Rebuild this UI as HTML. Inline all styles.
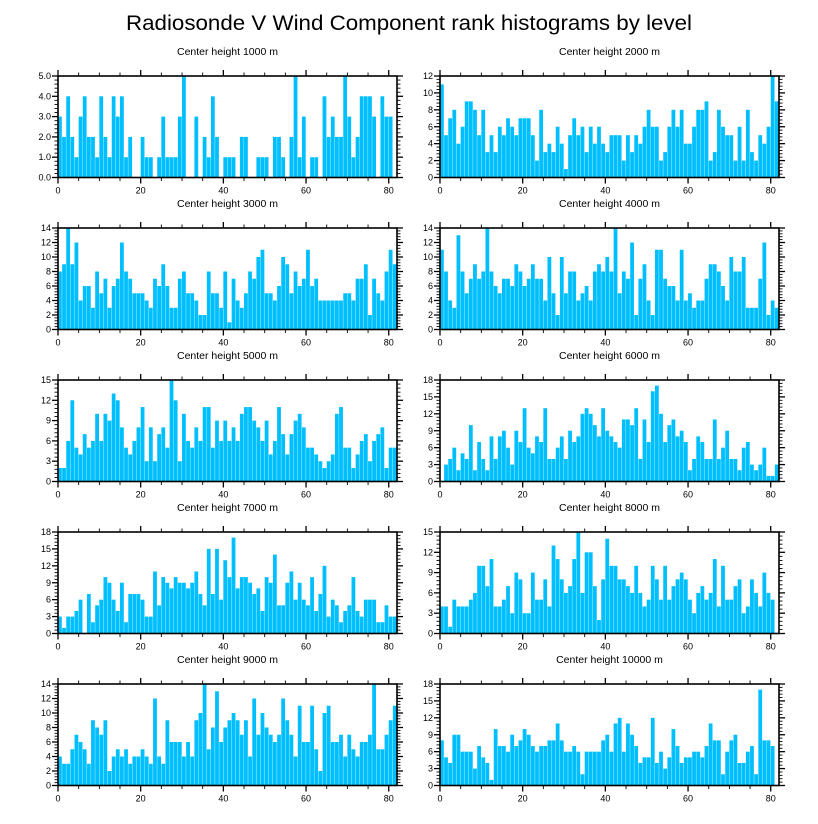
<!DOCTYPE html>
<html><head><meta charset="utf-8"><style>
html,body{margin:0;padding:0;background:#fff;}
svg{display:block;font-family:"Liberation Sans",Arial,sans-serif;}
</style></head><body>
<svg id="chart" width="818" height="824" viewBox="0 0 818 824" xmlns="http://www.w3.org/2000/svg">
<text x="409" y="30" text-anchor="middle" font-size="21" textLength="566" lengthAdjust="spacingAndGlyphs">Radiosonde V Wind Component rank histograms by level</text>
</svg>
<script>
const panelTitles = ["Center height 1000 m","Center height 2000 m","Center height 3000 m","Center height 4000 m","Center height 5000 m","Center height 6000 m","Center height 7000 m","Center height 8000 m","Center height 9000 m","Center height 10000 m"];
const xTickLabels = [0,20,40,60,80];
const yMaxes = [5,12,14,14,15,18,18,15,14,18];
const yLabelSteps = [1,2,2,2,3,3,3,3,2,3];
const h1000 = [3,2,4,2,1,3,4,2,2,1,4,2,1,4,3,4,1,2,0,0,2,1,1,0,1,3,1,1,1,3,5,0,0,3,0,2,1,4,2,0,1,1,1,0,2,2,0,0,1,1,1,0,2,2,1,0,2,5,1,3,0,1,1,0,4,2,3,2,2,5,3,1,2,4,4,4,3,0,4,3,3,0];
const h2000 = [11,5,7,8,4,6,9,9,8,5,8,3,5,3,6,5,7,6,5,7,7,7,5,2,8,3,4,3,6,4,1,5,7,5,6,3,6,4,6,4,3,5,5,5,2,5,3,5,4,6,8,6,6,2,3,6,8,6,8,4,4,6,8,8,9,2,3,8,6,5,5,2,6,2,8,3,2,5,4,6,12,9];
const h3000 = [8,9,14,9,12,4,6,6,3,8,5,7,3,6,7,12,8,7,5,5,5,4,3,7,6,9,6,3,3,7,8,5,5,4,2,2,8,5,5,3,8,1,7,4,3,5,8,7,10,11,5,5,4,6,10,9,5,8,6,7,11,6,7,4,4,4,4,4,4,5,5,4,7,7,9,2,7,5,4,8,11,9];
const h4000 = [11,8,4,3,13,8,5,7,9,7,8,14,8,6,5,7,7,6,9,8,6,7,9,7,7,4,10,5,2,10,5,8,8,4,5,6,4,8,9,8,10,8,14,5,8,7,12,2,7,9,4,2,11,11,7,6,6,4,11,4,5,3,4,4,7,9,9,8,6,4,10,8,8,10,3,3,3,7,12,2,4,3];
const h5000 = [2,2,6,12,5,4,7,5,6,10,6,10,9,13,12,8,5,4,6,8,11,3,8,3,7,8,5,15,12,3,10,6,5,8,6,11,11,5,9,6,9,6,8,6,10,11,11,9,8,6,9,4,6,11,7,4,7,9,10,8,5,5,4,3,2,3,4,10,11,5,5,2,4,6,7,3,6,7,8,2,5,5];
const h6000 = [0,3,4,6,2,5,4,10,2,7,4,2,8,4,8,9,6,3,9,7,13,6,5,8,7,13,4,4,6,8,4,9,7,8,12,13,12,10,8,13,9,8,7,6,11,11,10,13,4,11,7,16,17,12,7,10,11,8,9,7,2,4,8,7,4,4,11,4,6,9,4,4,2,6,7,3,2,3,6,1,1,3];
const h7000 = [3,1,3,3,4,6,0,7,2,5,6,10,9,6,4,9,2,7,7,7,6,3,3,11,5,10,9,8,10,9,9,8,9,11,7,5,15,7,15,6,13,10,17,8,10,10,9,7,8,4,10,9,14,5,5,9,11,6,9,6,5,10,4,7,12,3,6,5,2,4,5,10,4,3,6,6,6,2,2,5,3,3];
const h8000 = [4,4,1,5,4,4,4,5,6,10,10,7,11,4,4,5,7,3,9,8,3,3,9,5,5,8,4,13,11,8,6,7,11,15,6,12,12,7,2,8,14,10,10,8,8,7,6,10,6,4,5,10,8,5,10,5,7,8,9,8,5,3,6,7,5,6,11,4,10,5,5,7,8,3,4,8,6,4,9,6,5];
const h9000 = [4,3,3,5,7,6,5,3,9,8,7,9,2,4,5,4,5,3,4,4,5,4,3,12,4,3,9,6,6,6,4,6,4,9,10,14,5,8,13,6,8,9,10,9,7,9,4,12,7,10,8,7,6,7,12,9,7,4,11,6,6,11,5,2,10,11,6,6,7,4,7,5,4,6,6,7,14,5,5,7,9,11];
const h10000 = [8,5,4,9,9,6,6,6,3,7,5,4,1,10,7,7,6,9,7,8,10,9,7,6,7,7,8,8,11,8,6,6,7,6,2,6,6,6,6,8,9,6,11,12,6,11,9,7,4,5,5,12,4,6,3,5,10,7,4,5,5,6,6,5,7,11,8,8,2,6,8,9,4,4,6,7,2,17,8,8,7];
const allSeries = [h1000,h2000,h3000,h4000,h5000,h6000,h7000,h8000,h9000,h10000];

const NS = "http://www.w3.org/2000/svg";
const svg = document.getElementById("chart");
const XMAX = 82;
function mk(tag, attrs, parent){
  const e = document.createElementNS(NS, tag);
  for (const k in attrs) e.setAttribute(k, attrs[k]);
  parent.appendChild(e);
  return e;
}
for (let p = 0; p < 10; p++) {
  const col = p % 2, row = Math.floor(p / 2);
  const L = col ? 440 : 58, R = col ? 779 : 397;
  const T = 76 + row * 152, B = T + 101.5;
  const ymax = yMaxes[p], step = yLabelSteps[p], data = allSeries[p];
  const xs = v => L + (R - L) * v / XMAX;
  const ys = v => B - (B - T) * v / ymax;
  const g = mk("g", {}, svg);
  
  
  const t = mk("text", {x:(L+R)/2, y:T-21, "text-anchor":"middle", "font-size":"10.5"}, g);
  t.textContent = panelTitles[p];
  
  
  for (let i = 0; i < data.length; i++) {
    if (data[i] <= 0) continue;
    const x0 = xs(i), x1 = xs(i + 1);
    const r = mk("rect", {x:x0, y:ys(data[i]), width:Math.max(0.5,x1-x0-0.35), height:B-ys(data[i]), fill:"#00bfff"}, g);
    
    
  }
  const fr = mk("rect", {x:L, y:T, width:R-L, height:B-T, fill:"none", stroke:"#000", "stroke-width":"1.6"}, g);
  
  
  for (let v = 0; v <= 80; v += 5) {
    const major = v % 20 === 0, len = major ? 6 : 3.5, x = xs(v);
    mk("line", {x1:x, x2:x, y1:T, y2:T-len, stroke:"#000", "stroke-width": major?1.3:0.9}, g);
    mk("line", {x1:x, x2:x, y1:B, y2:B+len, stroke:"#000", "stroke-width": major?1.3:0.9}, g);
  }
  xTickLabels.forEach(v => {
    const tl = mk("text", {x:xs(v), y:B+16, "text-anchor":"middle", "font-size":"9"}, g);
    tl.textContent = v;
    
    
  });
  const minor = step / 5;
  for (let k = 0; k * minor <= ymax + 1e-9; k++) {
    const v = k * minor, major = k % 5 === 0, len = major ? 6 : 3.5, y = ys(v);
    mk("line", {x1:L, x2:L-len, y1:y, y2:y, stroke:"#000", "stroke-width": major?1.3:0.9}, g);
    mk("line", {x1:R, x2:R+len, y1:y, y2:y, stroke:"#000", "stroke-width": major?1.3:0.9}, g);
    if (major) {
      const yl = mk("text", {x:L-7, y:y+3, "text-anchor":"end", "font-size":"9"}, g);
      yl.textContent = ymax === 5 ? v.toFixed(1) : Math.round(v);
      
      
    }
  }
}
</script>
</body></html>
